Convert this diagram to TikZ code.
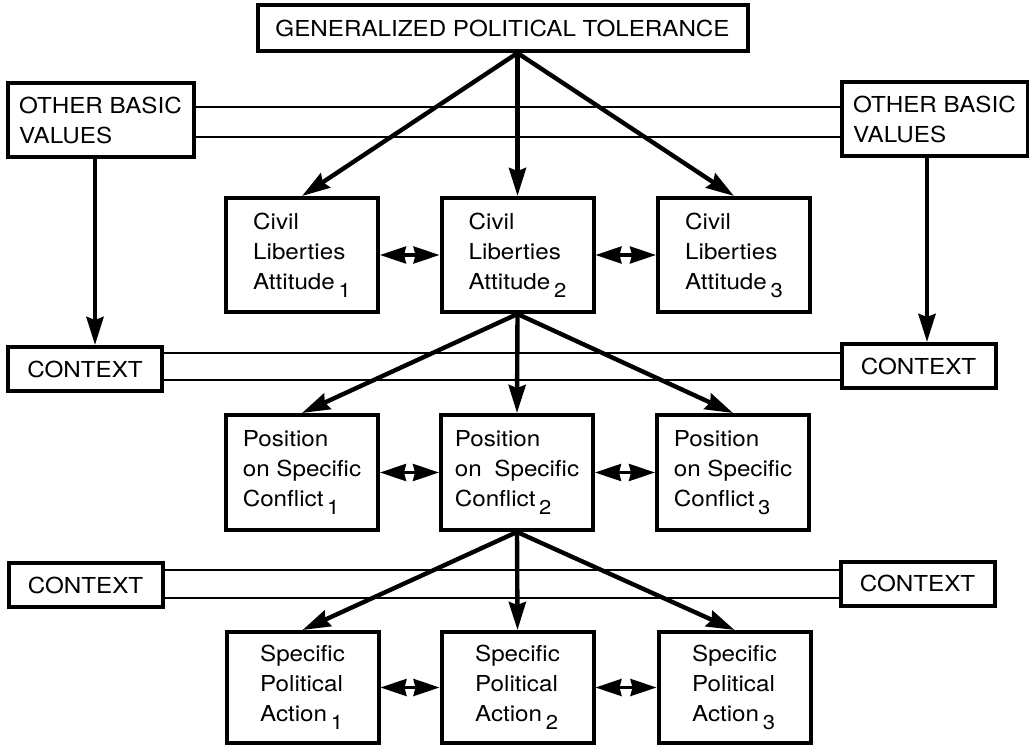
\documentclass[tikz,border=0pt]{standalone}
\usepackage{fontspec}
\setmainfont{TeX Gyre Heros}[FakeStretch=1.1]
\usetikzlibrary{arrows.meta}
\newcommand{\idx}[1]{\,\raisebox{-4pt}{\fontsize{10}{10}\selectfont #1}}

\begin{document}
\begin{tikzpicture}[x=0.5pt,y=-0.5pt,font=\fontsize{11}{15}\selectfont,
  box/.style={draw,line width=2pt,align=left,inner sep=0pt},
  lvl/.style={box,minimum width=76pt,minimum height=57pt},
  ctx/.style={box,minimum width=77pt,minimum height=22pt},
  obv/.style={box,minimum width=93pt,minimum height=37pt},
  flow/.style={line width=2.2pt,-{Stealth[length=14pt,width=8.5pt,inset=1.5pt]}},
  both/.style={line width=1.6pt,{Stealth[length=13pt,width=8.5pt,inset=1pt]}-{Stealth[length=13pt,width=8.5pt,inset=1pt]}},
  band/.style={line width=1.2pt}]
  \useasboundingbox (0,0) rectangle (1029,745);
  % top and side boxes
  \node[box,minimum width=245pt,minimum height=23pt] (gpt) at (502.5,28) {GENERALIZED POLITICAL TOLERANCE};
  \node[obv] (obvL) at (100.5,120) {OTHER BASIC\\VALUES};
  \node[obv] (obvR) at (934.5,119) {OTHER BASIC\\VALUES};
  \node[ctx] (ctxL1) at (85,369) {CONTEXT};
  \node[ctx] (ctxR1) at (918.5,366) {CONTEXT};
  \node[ctx] (ctxL2) at (85.5,585) {CONTEXT};
  \node[ctx] (ctxR2) at (917.5,583.5) {CONTEXT};
  % the three levels
  \node[lvl] (att1) at (302,255) {Civil\\Liberties\\Attitude\idx{1}};
  \node[lvl] (att2) at (517.5,255) {Civil\\Liberties\\Attitude\idx{2}};
  \node[lvl] (att3) at (734,255) {Civil\\Liberties\\Attitude\idx{3}};
  \node[lvl,minimum height=57.5pt] (pos1) at (302,472.5) {Position\\on Specific\\Conflict\idx{1}};
  \node[lvl,minimum height=57.5pt] (pos2) at (517,472.5) {Position\\on\hspace{3pt} Specific\\Conflict\idx{2}};
  \node[lvl,minimum height=57.5pt] (pos3) at (733,472.5) {Position\\on Specific\\Conflict\idx{3}};
  \node[lvl,minimum height=55.5pt] (act1) at (302.5,687.5) {Specific\\Political\\Action\idx{1}};
  \node[lvl,minimum height=55.5pt] (act2) at (517.5,687.5) {Specific\\Political\\Action\idx{2}};
  \node[lvl,minimum height=55.5pt] (act3) at (734.5,687.5) {Specific\\Political\\Action\idx{3}};
  % bands
  \draw[band] (obvL.east |- 0,107) -- (obvR.west |- 0,107);
  \draw[band] (obvL.east |- 0,137) -- (obvR.west |- 0,137);
  \draw[band] (ctxL1.east |- 0,353) -- (ctxR1.west |- 0,353);
  \draw[band] (ctxL1.east |- 0,380) -- (ctxR1.west |- 0,380);
  \draw[band] (ctxL2.east |- 0,570) -- (ctxR2.west |- 0,570);
  \draw[band] (ctxL2.east |- 0,598) -- (ctxR2.west |- 0,598);
  % values into context
  \draw[flow] (obvL.south -| 95,0) -- (ctxL1.north -| 95,0);
  \draw[flow] (obvR.south -| 927,0) -- (ctxR1.north -| 927,0);
  % fans
  \draw[flow] (gpt.south -| att2.north) -- (att1.north);
  \draw[flow] (gpt.south -| att2.north) -- (att2.north);
  \draw[flow] (gpt.south -| att2.north) -- (att3.north);
  \draw[flow] (att2.south) -- (pos1.north);
  \draw[flow] (att2.south) -- (pos2.north);
  \draw[flow] (att2.south) -- (pos3.north);
  \draw[flow] (pos2.south) -- (act1.north);
  \draw[flow] (pos2.south) -- (act2.north);
  \draw[flow] (pos2.south) -- (act3.north);
  % mutual links
  \draw[both] (att1.east) -- (att2.west);
  \draw[both] (att2.east) -- (att3.west);
  \draw[both] (pos1.east) -- (pos2.west);
  \draw[both] (pos2.east) -- (pos3.west);
  \draw[both] (act1.east) -- (act2.west);
  \draw[both] (act2.east) -- (act3.west);
\end{tikzpicture}
\end{document}
